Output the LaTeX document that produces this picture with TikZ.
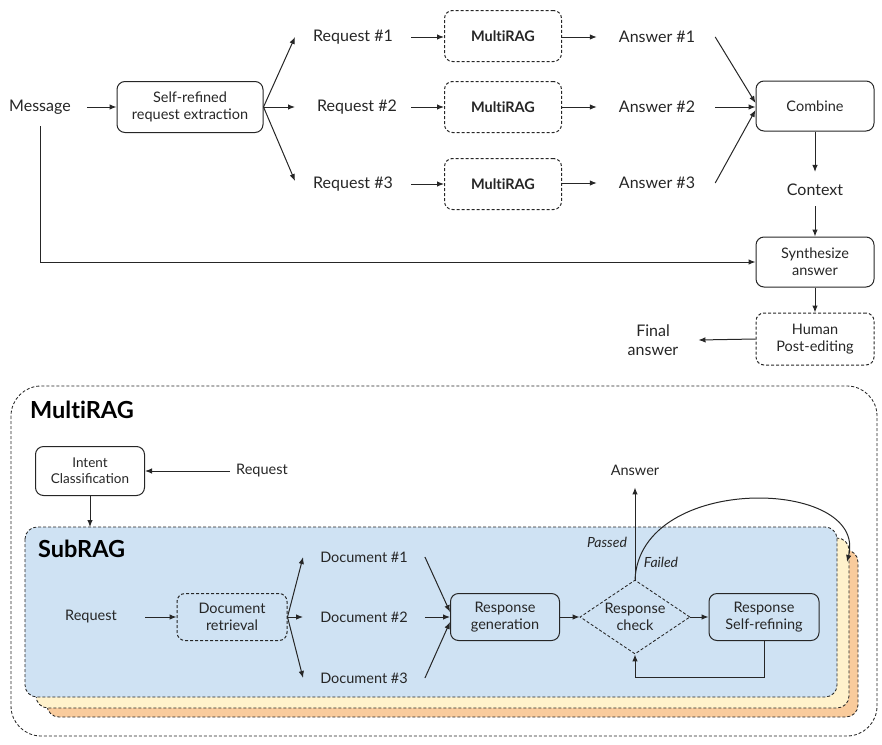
\documentclass[tikz,border=0pt]{standalone}
\usepackage{fontspec}
\setmainfont{Lato}
\usetikzlibrary{arrows.meta,shapes.geometric}
\definecolor{lineC}{HTML}{262626}
\definecolor{blueL}{HTML}{CFE2F3}
\definecolor{yellowL}{HTML}{FFF2CC}
\definecolor{orangeL}{HTML}{F9CB9C}
\newcommand{\MRAG}{Mult\kern0pt iRAG}
\tikzset{
  arr/.style={draw=lineC, line width=1pt, -{Latex[length=7pt,width=5.5pt]}},
  box/.style={draw=lineC, line width=1pt, rounded corners=8pt, align=center, inner sep=2pt, font=\fontsize{14.5}{17}\selectfont, text=lineC},
  dbox/.style={box, dash pattern=on 3pt off 2pt},
  txt/.style={inner sep=0pt, align=center, font=\fontsize{16}{19}\selectfont, text=lineC},
  stxt/.style={inner sep=0pt, align=center, font=\fontsize{14.5}{17}\selectfont, text=lineC},
  itxt/.style={inner sep=0pt, font=\itshape\fontsize{14}{16}\selectfont, text=lineC},
  ttl/.style={anchor=west, inner sep=0pt, font=\bfseries\fontsize{23.5}{26}\selectfont, text=black},
  dsh/.style={draw=lineC, line width=0.85pt, dash pattern=on 3pt off 2pt},
}
\begin{document}
\begin{tikzpicture}[x=1pt,y=-1pt]
\useasboundingbox (0,0) rectangle (882,744);
% ---------- top part ----------
\node[txt] (msg) at (40,107) {Message};
\node[box, minimum width=146pt, minimum height=51pt] (sr) at (190,107) {Self-refined\\request extraction};
\node[txt] (rq1) at (353,37) {Request \#1};
\node[txt] (rq2) at (357,107) {Request \#2};
\node[txt] (rq3) at (353,184) {Request \#3};
\node[dbox, minimum width=117pt, minimum height=51pt, font=\bfseries\fontsize{14.5}{17}\selectfont] (m1) at (503,36) {\MRAG};
\node[dbox, minimum width=117pt, minimum height=51pt, font=\bfseries\fontsize{14.5}{17}\selectfont] (m2) at (503,107) {\MRAG};
\node[dbox, minimum width=117pt, minimum height=51pt, font=\bfseries\fontsize{14.5}{17}\selectfont] (m3) at (503,184) {\MRAG};
\node[txt] (a1) at (657,37) {Answer \#1};
\node[txt] (a2) at (657,107) {Answer \#2};
\node[txt] (a3) at (657,183) {Answer \#3};
\node[box, minimum width=118pt, minimum height=50pt] (comb) at (815,106) {Combine};
\node[txt] (ctx) at (815,190) {Context};
\node[box, minimum width=118pt, minimum height=50pt] (syn) at (815,262) {Synthesize\\answer};
\node[dbox, minimum width=118pt, minimum height=52pt] (hum) at (815,339) {Human\\Post-editing};
\node[txt] (fin) at (653,340) {Final\\answer};

\draw[arr] ([xshift=16pt]msg.east) -- (sr.west);
\draw[arr] (sr.east) -- ([xshift=-18pt]rq1.west);
\draw[arr] (sr.east) -- ([xshift=-22pt]rq2.west);
\draw[arr] (sr.east) -- ([xshift=-18pt,yshift=3pt]rq3.west);
\draw[arr] ([xshift=18pt]rq1.east) -- (rq1.east -| m1.west);
\draw[arr] ([xshift=14pt]rq2.east) -- (m2.west);
\draw[arr] ([xshift=18pt]rq3.east) -- (rq3.east -| m3.west);
\draw[arr] (m1.east |- a1.west) -- ([xshift=-22pt]a1.west);
\draw[arr] (m2.east) -- ([xshift=-22pt]a2.west);
\draw[arr] (m3.east |- a3.west) -- ([xshift=-22pt]a3.west);
\draw[arr] ([xshift=20pt]a1.east) -- ([yshift=3pt]comb.west);
\draw[arr] ([xshift=20pt]a2.east) -- ([yshift=-1pt]comb.west);
\draw[arr] ([xshift=20pt]a3.east) -- ([yshift=-4pt]comb.west);
\draw[arr] (comb.south) -- ([yshift=12pt]ctx.north);
\draw[arr] ([yshift=-10pt]ctx.south) -- (syn.north);
\draw[arr] ([yshift=-12pt]msg.south) |- (syn.west);
\draw[arr] (syn.south) -- (hum.north);
\draw[arr] (hum.west) -- ([xshift=20pt]fin.east);

% ---------- bottom: MultiRAG ----------
\draw[dsh, rounded corners=30pt] (11,386) rectangle (877,736);
\node[ttl] (mtitle) at (30,410) {\MRAG};
\node[box, minimum width=109pt, minimum height=49pt, font=\fontsize{13.5}{16}\selectfont] (int) at (90,471) {Intent\\Classification};
\node[stxt] (req0) at (262,471) {Request};
\draw[arr] ([xshift=-6pt]req0.west) -- (int.east);

% stacked SubRAG layers
\draw[dsh, fill=orangeL, rounded corners=12pt] (47,550) rectangle (858,717);
\draw[dsh, fill=yellowL, rounded corners=12pt] (36,538) rectangle (849,708);
\draw[dsh, fill=blueL, rounded corners=12pt] (25,527) rectangle (837,697);
\coordinate (subtop) at (90,527);
\draw[arr] (int.south) -- (subtop);
\node[ttl] (stitle) at (38,549) {SubRAG};

\node[stxt] (sreq) at (91,617) {Request};
\node[dbox, minimum width=110pt, minimum height=47pt] (dr) at (232,617) {Document\\retrieval};
\node[stxt] (d1) at (364,557) {Document \#1};
\node[stxt] (d2) at (364,617) {Document \#2};
\node[stxt] (d3) at (364,678) {Document \#3};
\node[box, minimum width=109pt, minimum height=47pt] (rg) at (505,617) {Response\\generation};
\node[diamond, dsh, minimum width=110pt, minimum height=74pt, inner sep=0pt] (chk) at (635,617) {};
\node[stxt] (chkt) at (635,617) {Response\\check};
\node[box, minimum width=110pt, minimum height=47pt] (sf) at (764,617) {Response\\Self-refining};
\node[stxt] (ans) at (635,470) {Answer};
\node[itxt] (pas) at (607,542) {Passed};
\node[itxt] (fal) at (661,562) {Failed};
\coordinate (stack) at (847,562);

\draw[arr] ([xshift=28pt]sreq.east) -- (dr.west);
\draw[arr] (dr.east) -- ([xshift=-17pt]d1.west);
\draw[arr] (dr.east) -- ([xshift=-17pt]d2.west);
\draw[arr] (dr.east) -- ([xshift=-17pt]d3.west);
\draw[arr] ([xshift=17pt]d1.east) -- ([yshift=5pt]rg.west);
\draw[arr] ([xshift=17pt]d2.east) -- (rg.west);
\draw[arr] ([xshift=17pt]d3.east) -- ([yshift=-5pt]rg.west);
\draw[arr] (rg.east) -- (chk.west);
\draw[arr] (chk.east) -- (sf.west);
\draw[arr] (sf.south) -- ++(0,36) -| (chk.south);
\draw[arr] (chk.north) -- ([yshift=-12pt]ans.south);
\draw[arr] (chk.north) .. controls (640,472) and (868,478) .. (stack);
\end{tikzpicture}
\end{document}
